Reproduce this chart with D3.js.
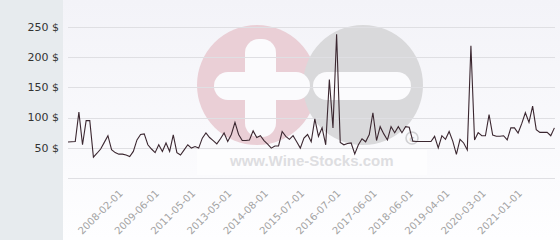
<!DOCTYPE html>
<html lang="en">
<head>
<meta charset="UTF-8">
<title>Wine price history</title>
<script src="https://d3js.org/d3.v7.min.js"></script>
<style>
  body {
    margin: 0;
    background-color: #ffffff;
  }
  svg text {
    font-family: "DejaVu Sans", Verdana, sans-serif;
  }
</style>
</head>
<body>
<svg id="chart" width="560" height="240"></svg>
<script>
// price readings, one per observation (categorical x axis)
const prices = [
  59.5, 60, 60.5, 109, 55, 95, 95, 34.5, 41, 48,
  59, 70, 47, 42, 39.5, 39.5, 38, 35.5, 44, 63,
  72, 73, 55, 48, 42, 55, 44, 58, 44, 71.5,
  42, 38, 46.5, 55, 49.5, 52, 49.5, 66, 74.5, 67,
  62, 56.5, 65, 74.5, 60.5, 72, 92, 72, 62, 62,
  63, 78, 67, 70, 62, 56, 49.5, 53, 53, 77,
  69, 64, 70, 60, 49.5, 66, 72, 60, 98, 69,
  83, 55, 163, 83, 238, 59, 55, 57, 58, 40,
  55, 65, 60, 72, 108, 62, 85, 73, 63, 85,
  75, 85, 75, 85, 84, 61, 60.5, 60.5, 60.5, 60.5,
  60.5, 69, 50, 70, 64, 77, 61, 39, 64, 58,
  46.5, 219, 63, 75, 70, 70, 105, 71, 69, 69,
  70, 63, 83, 83, 74.5, 90, 108, 92, 119, 80,
  75.5, 75.5, 75.5, 70, 83
];

// x labels and the observation they sit under
const tickLabels = ["2008-02-01", "2009-06-01", "2011-05-01", "2013-05-01", "2014-08-01", "2015-07-01",
                    "2016-07-01", "2017-06-01", "2018-06-01", "2019-04-01", "2020-03-01", "2021-01-01"];
const tickIndex = [15, 25, 35, 45, 55, 65, 75, 85, 95, 105, 115, 125];

const yTicks = [50, 100, 150, 200, 250];

const svg = d3.select('#chart'),
    width = +svg.attr('width'),
    height = +svg.attr('height'),
    panelW = 63; // grey strip on the left

const x = d3.scalePoint()
    .domain(d3.range(prices.length))
    .range([68, 554.4]);

const y = d3.scaleLinear()
    .domain([0, 250])
    .range([178, 27]);

// backgrounds
const defs = svg.append('defs');
const grad = defs.append('linearGradient')
    .attr('id', 'bg').attr('x1', 0).attr('y1', 0).attr('x2', 0).attr('y2', 1);
grad.append('stop').attr('offset', '0%').attr('stop-color', '#f3f3f8');
grad.append('stop').attr('offset', '100%').attr('stop-color', '#fefeff');

svg.append('rect')
    .attr('x', panelW).attr('y', 0)
    .attr('width', width - panelW).attr('height', height)
    .attr('fill', 'url(#bg)');

svg.append('rect')
    .attr('x', 0).attr('y', 0)
    .attr('width', panelW).attr('height', height)
    .attr('fill', '#e7ebee');

// watermark
const wm = svg.append('g').attr('class', 'watermark');
wm.append('circle').attr('cx', 257).attr('cy', 85).attr('r', 60).attr('fill', '#eacfd6');
wm.append('circle').attr('cx', 363).attr('cy', 85).attr('r', 60).attr('fill', '#d9d9db');
// plus
wm.append('rect').attr('x', 245).attr('y', 39).attr('width', 31).attr('height', 98).attr('rx', 14).attr('fill', '#fbfbfd');
wm.append('rect').attr('x', 214).attr('y', 72).attr('width', 96).attr('height', 28).attr('rx', 14).attr('fill', '#fbfbfd');
// minus
wm.append('rect').attr('x', 313).attr('y', 72).attr('width', 98).attr('height', 28).attr('rx', 14).attr('fill', '#fbfbfd');
// little (c)
wm.append('circle').attr('cx', 412).attr('cy', 138).attr('r', 6).attr('fill', 'none')
    .attr('stroke', '#cfcfd2').attr('stroke-width', 1.6);
wm.append('text').attr('x', 412).attr('y', 141.5).attr('text-anchor', 'middle')
    .style('font-size', '9px').style('font-weight', 'bold').attr('fill', '#cfcfd2').text('c');
wm.append('rect').attr('x', 197).attr('y', 150).attr('width', 230).attr('height', 25)
    .attr('fill', '#ffffff').attr('opacity', 0.6);
wm.append('text').attr('x', 230).attr('y', 166)
    .style('font-family', '"Liberation Sans", Arial, sans-serif')
    .style('font-size', '15px').style('font-weight', 'bold')
    .attr('fill', '#dedee1')
    .text('www.Wine-Stocks.com');

// grid
svg.append('g').selectAll('line')
    .data([0].concat(yTicks))
    .join('line')
    .attr('x1', 68).attr('x2', 555)
    .attr('y1', d => Math.round(y(d)) + 0.5)
    .attr('y2', d => Math.round(y(d)) + 0.5)
    .attr('stroke', '#dfdfe3')
    .attr('stroke-width', 1);

// y labels
svg.append('g').selectAll('text')
    .data(yTicks)
    .join('text')
    .attr('x', 59)
    .attr('y', d => y(d))
    .attr('dy', '0.35em')
    .attr('text-anchor', 'end')
    .attr('fill', '#333333')
    .style('font-size', '11px')
    .text(d => d + ' $');

// x labels, rotated
svg.append('g').selectAll('text')
    .data(tickIndex)
    .join('text')
    .attr('transform', d => `translate(${x(d) + 1},194) rotate(-45)`)
    .attr('text-anchor', 'end')
    .attr('fill', '#a3a3a3')
    .style('font-size', '10px')
    .text((d, i) => tickLabels[i]);

// price line
const line = d3.line()
    .x((d, i) => x(i))
    .y(d => y(d));

svg.append('path')
    .datum(prices)
    .attr('d', line)
    .attr('fill', 'none')
    .attr('stroke', '#3b2730')
    .attr('stroke-width', 1.1)
    .attr('stroke-linejoin', 'miter');
</script>
</body>
</html>
